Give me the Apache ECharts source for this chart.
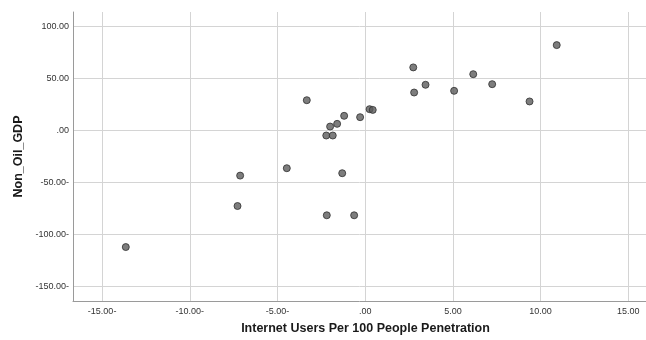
<!DOCTYPE html>
<html>
<head>
<meta charset="utf-8">
<script src="https://cdn.jsdelivr.net/npm/echarts@6/dist/echarts.min.js"></script>
<style>
  html, body { margin: 0; padding: 0; background: #fff; }
  #chart { width: 646px; height: 340px; }
</style>
</head>
<body>
<div id="chart"></div>
<script>
// Internet users per 100 people (penetration change) vs. non-oil GDP
const internetUsers = [
  -13.65, -7.28, -7.13, -4.47, -3.33, -2.22, -1.85, -2.00, -1.60, -1.20,
  -0.29, 0.25, 0.43, -2.19, -0.63, -1.31, 2.74, 2.79, 3.44, 5.07,
  6.16, 7.24, 9.37, 10.92
];
const nonOilGdp = [
  -112.2, -72.8, -43.6, -36.5, 28.8, -5.1, -5.1, 3.5, 6.1, 13.8,
  12.5, 20.2, 19.5, -81.7, -81.7, -41.3, 60.3, 36.2, 43.6, 37.8,
  53.8, 44.2, 27.6, 81.7
];

const xTickValues = [-15, -10, -5, 0, 5, 10, 15];
const xTickLabels = ['-15.00-', '-10.00-', '-5.00-', '.00', '5.00', '10.00', '15.00'];
const yTickValues = [-150, -100, -50, 0, 50, 100];
const yTickLabels = ['-150.00-', '-100.00-', '-50.00-', '.00', '50.00', '100.00'];

const points = internetUsers.map((x, i) => [x, nonOilGdp[i]]);

function labelFor(values, labels) {
  return v => {
    const i = values.findIndex(t => Math.abs(t - v) < 1e-6);
    return i >= 0 ? labels[i] : '';
  };
}

const font = 'Liberation Sans, Arial, sans-serif';
const chart = echarts.init(document.getElementById('chart'), null, { renderer: 'canvas' });

chart.setOption({
  animation: false,
  backgroundColor: '#ffffff',
  grid: { left: 73, top: 12, right: 0, bottom: 38, containLabel: false },
  xAxis: {
    type: 'value',
    min: -16.66,
    max: 16.01,
    name: 'Internet Users Per 100 People Penetration',
    nameLocation: 'middle',
    nameGap: 21,
    nameTextStyle: {
      fontFamily: font, fontSize: 12.5, fontWeight: 'bold', color: '#1a1a1a',
      padding: [0, 0, 0, 12]
    },
    axisLine: { show: true, onZero: false, lineStyle: { color: '#9a9a9a', width: 1 } },
    axisTick: { show: false, customValues: xTickValues },
    axisLabel: {
      customValues: xTickValues,
      formatter: labelFor(xTickValues, xTickLabels),
      fontFamily: font, fontSize: 9, color: '#333', margin: 6
    },
    splitLine: { show: true, lineStyle: { color: '#d4d4d4', width: 1 } }
  },
  yAxis: {
    type: 'value',
    min: -164,
    max: 113.5,
    name: 'Non_Oil_GDP',
    nameLocation: 'middle',
    nameGap: 43,
    nameRotate: 90,
    nameTextStyle: { fontFamily: font, fontSize: 12.5, fontWeight: 'bold', color: '#1a1a1a' },
    axisLine: { show: true, onZero: false, lineStyle: { color: '#9a9a9a', width: 1 } },
    axisTick: { show: false, customValues: yTickValues },
    axisLabel: {
      customValues: yTickValues,
      formatter: labelFor(yTickValues, yTickLabels),
      fontFamily: font, fontSize: 9, color: '#333', margin: 4
    },
    splitLine: { show: true, lineStyle: { color: '#d4d4d4', width: 1 } }
  },
  series: [{
    type: 'scatter',
    data: points,
    symbol: 'circle',
    symbolSize: 7,
    itemStyle: { color: '#5c5c5c', borderColor: '#303030', borderWidth: 1 },
    emphasis: { disabled: true }
  }]
});
</script>
</body>
</html>
